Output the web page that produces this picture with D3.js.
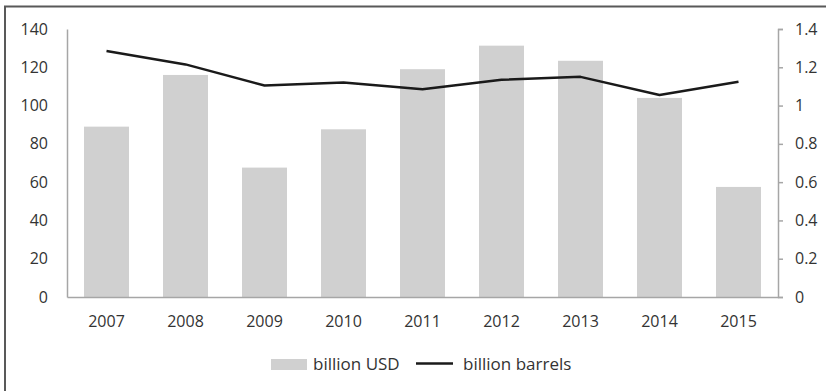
<!DOCTYPE html>
<html>
<head>
<meta charset="utf-8">
<script src="https://cdn.jsdelivr.net/npm/d3@7"></script>
<style>
  html, body { margin: 0; padding: 0; background: #fff; }
  svg { display: block; font-family: "Open Sans", Lato, sans-serif; }
</style>
</head>
<body>
<svg id="chart" width="826" height="391"></svg>
<script>
// Annual figures, 2007–2015
const years = ["2007", "2008", "2009", "2010", "2011", "2012", "2013", "2014", "2015"];
const valueUSD = [89, 116, 67.6, 87.6, 119, 131.3, 123.4, 104, 57.5];   // billion USD (bars, left axis)
const volumeBarrels = [1.285, 1.215, 1.105, 1.12, 1.085, 1.135, 1.15, 1.055, 1.125]; // billion barrels (line, right axis)
const leftTicks = [0, 20, 40, 60, 80, 100, 120, 140];
const rightTicks = [0, 0.2, 0.4, 0.6, 0.8, 1, 1.2, 1.4];
const seriesNames = ["billion USD", "billion barrels"];

const svg = d3.select("#chart");
const plot = { left: 67, right: 778, top: 29, bottom: 297 };
const textColor = "#333";
const axisColor = "#a6a6a6";
const fontFamily = "'Open Sans', sans-serif";
const fontSize = 16;

// Outer frame (runs off the right and bottom edges)
svg.append("rect")
  .attr("x", 5).attr("y", 6.5)
  .attr("width", 830).attr("height", 400)
  .attr("fill", "none").attr("stroke", "#595959").attr("stroke-width", 2);

const x = d3.scaleBand().domain(years).range([plot.left, plot.right]).paddingInner(0.43).paddingOuter(0.215);
const yL = d3.scaleLinear().domain([0, 140]).range([plot.bottom, plot.top]);
const yR = d3.scaleLinear().domain([0, 1.4]).range([plot.bottom, plot.top]);

// Bars
svg.append("g").selectAll("rect")
  .data(years)
  .join("rect")
  .attr("x", d => x(d))
  .attr("width", x.bandwidth())
  .attr("y", (d, i) => yL(valueUSD[i]))
  .attr("height", (d, i) => yL(0) - yL(valueUSD[i]))
  .attr("fill", "#d0d0d0");

// Left axis
const gL = svg.append("g").attr("transform", `translate(${plot.left},0)`)
  .call(d3.axisLeft(yL).tickValues(leftTicks).tickSize(0).tickPadding(19).tickFormat(d3.format("d")));
gL.select(".domain").attr("stroke", axisColor).attr("stroke-width", 1.5);
gL.selectAll("text").attr("fill", textColor).attr("font-size", fontSize).attr("font-family", fontFamily);

// Right axis
const gR = svg.append("g").attr("transform", `translate(${plot.right},0)`)
  .call(d3.axisRight(yR).tickValues(rightTicks).tickSize(5).tickSizeOuter(5).tickPadding(12).tickFormat(d => d3.format("~g")(d)));
gR.select(".domain").attr("stroke", axisColor).attr("stroke-width", 1.5);
gR.selectAll(".tick line").attr("stroke", axisColor).attr("stroke-width", 1.5);
gR.selectAll("text").attr("fill", textColor).attr("font-size", fontSize).attr("font-family", fontFamily);

// Bottom axis
const gB = svg.append("g").attr("transform", `translate(0,${plot.bottom})`)
  .call(d3.axisBottom(x).tickSize(0).tickPadding(19));
gB.select(".domain").attr("stroke", axisColor).attr("stroke-width", 1.5);
gB.selectAll("text").attr("fill", textColor).attr("font-size", fontSize).attr("font-family", fontFamily);

// Line
const line = d3.line()
  .x((d, i) => x(years[i]) + x.bandwidth() / 2)
  .y(d => yR(d));
svg.append("path")
  .datum(volumeBarrels)
  .attr("d", line)
  .attr("fill", "none")
  .attr("stroke", "#1a1a1a")
  .attr("stroke-width", 2.5)
  .attr("stroke-linejoin", "round");

// Legend
const legend = svg.append("g").attr("font-size", 17).attr("font-family", fontFamily).attr("fill", textColor);
legend.append("rect").attr("x", 271).attr("y", 359).attr("width", 36).attr("height", 11).attr("fill", "#d0d0d0");
legend.append("text").attr("x", 313).attr("y", 370).text(seriesNames[0]);
legend.append("line").attr("x1", 416).attr("x2", 453).attr("y1", 363.5).attr("y2", 363.5)
  .attr("stroke", "#1a1a1a").attr("stroke-width", 2.5);
legend.append("text").attr("x", 463).attr("y", 370).text(seriesNames[1]);
</script>
</body>
</html>
